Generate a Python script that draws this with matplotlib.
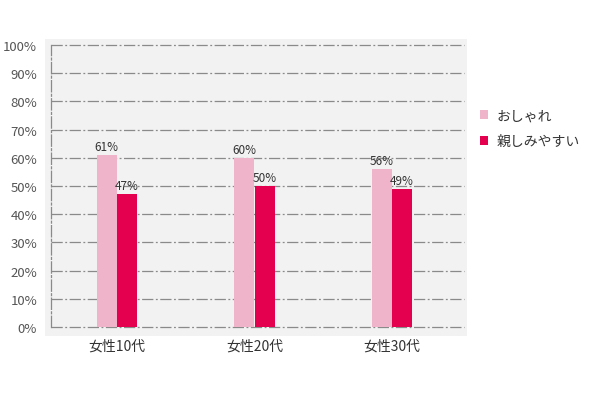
import matplotlib
matplotlib.use('Agg')
import matplotlib.pyplot as plt
from matplotlib.patches import Rectangle
import numpy as np

plt.rcParams['font.family'] = ['Noto Sans CJK JP', 'DejaVu Sans']

categories = ['女性10代', '女性20代', '女性30代']
series_names = ['おしゃれ', '親しみやすい']
oshare = [61, 60, 56]
shitashimi = [47, 50, 49]
colors = ['#efb4c9', '#e5004f']

fig = plt.figure(figsize=(5.95, 4.10), dpi=100)
# light gray panel behind the plot
fig.patches.append(Rectangle((45 / 595, 1 - 337 / 410), 422 / 595, 297 / 410,
                             transform=fig.transFigure, facecolor='#f2f2f2',
                             edgecolor='none', zorder=-1))
ax = fig.add_axes([51 / 595, 82 / 410, 412.5 / 595, 282 / 410])
ax.set_zorder(2)
ax.set_facecolor('none')

x = np.arange(len(categories))
w = 0.148
b1 = ax.bar(x - w / 2, oshare, width=w, color=colors[0], label=series_names[0], zorder=3)
b2 = ax.bar(x + w / 2, shitashimi, width=w, color=colors[1], label=series_names[1], zorder=3)
for bars, vals in [(b1, oshare), (b2, shitashimi)]:
    for r, v in zip(bars, vals):
        ax.text(r.get_x() + r.get_width() / 2, v + 0.8, f'{v}%', ha='center', va='bottom',
                fontsize=8.5, color='#333333', zorder=4)

ax.set_xlim(-0.48, 2.52)
ax.set_ylim(0, 100)
ax.set_yticks(range(0, 101, 10))
ax.set_yticklabels([f'{t}%' for t in range(0, 101, 10)], fontsize=9.5, color='#555555')
ax.set_xticks(x)
ax.set_xticklabels(categories, fontsize=10, color='#333333')
ax.tick_params(length=0, axis='both')
ax.tick_params(axis='x', pad=8)
ax.tick_params(axis='y', pad=10)

dash = (0, (9, 2, 1.5, 2))
ax.grid(axis='y', color='#8a8a8a', linestyle=dash, linewidth=0.9, zorder=1)
for gl in ax.get_ygridlines():
    gl.set_clip_on(False)
for s in ['top', 'right', 'bottom']:
    ax.spines[s].set_visible(False)
ax.spines['left'].set_color('#8a8a8a')
ax.spines['left'].set_linestyle(dash)
ax.spines['left'].set_linewidth(0.9)

ax.legend(loc='upper left', bbox_to_anchor=(1.01, 0.82), frameon=False, fontsize=10,
          handlelength=0.6, handleheight=0.6, handletextpad=0.55, labelspacing=0.85,
          labelcolor='#333333')

fig.savefig('out.png', dpi=100)
